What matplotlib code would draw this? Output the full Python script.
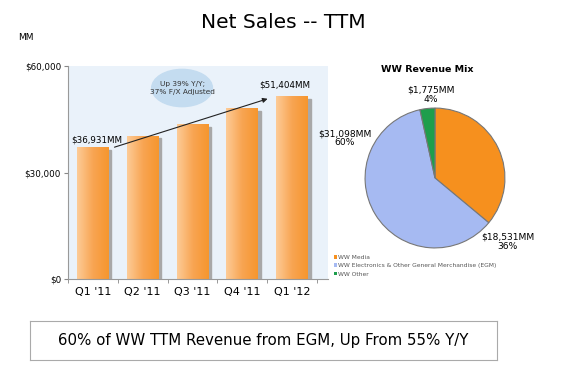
import numpy as np
import matplotlib
matplotlib.use("Agg")
import matplotlib.pyplot as plt
from matplotlib.patches import Ellipse, Rectangle

# Daten
quarters = ["Q1 '11", "Q2 '11", "Q3 '11", "Q4 '11", "Q1 '12"]
net_sales = [36931, 40279, 43594, 48077, 51404]
ytick_vals = [0, 30000, 60000]
ytick_labels = ["$0", "$30,000", "$60,000"]

mix_labels = ["WW Media", "WW Electronics & Other General Merchandise (EGM)", "WW Other"]
mix_values = [18531, 31098, 1775]
mix_pct = ["36%", "60%", "4%"]
mix_colors = ["#F6901E", "#A6BAF2", "#1E9E4C"]

plt.rcParams["font.family"] = ["DejaVu Sans"]

fig = plt.figure(figsize=(5.65, 3.71), dpi=100)
W, H = 565, 371


def fig_axes(x0, y0, x1, y1):
    # Pixelkoordinaten (oben links = 0,0) -> Figure-Koordinaten
    return fig.add_axes([x0 / W, 1 - y1 / H, (x1 - x0) / W, (y1 - y0) / H])


fig.text(283 / W, 1 - 22 / H, "Net Sales -- TTM", ha="center", va="center", fontsize=14.5)
fig.text(18 / W, 1 - 37 / H, "MM", ha="left", va="center", fontsize=6.5)

# --- Balkendiagramm ---
ax = fig_axes(68, 66, 328, 279)
ax.set_facecolor("#EAF2FA")
x = np.arange(len(quarters))
bw = 0.64
grad = np.linspace(0, 1, 50).reshape(1, -1)
cmap = matplotlib.colors.LinearSegmentedColormap.from_list("bar", ["#FDCB96", "#F8A553", "#F6962E"])
for xi, v in zip(x, net_sales):
    ax.add_patch(Rectangle((xi - bw / 2 + 0.05, 0), bw, v - 700, color="#A8A8A8", zorder=1))
    ax.imshow(grad, cmap=cmap, extent=(xi - bw / 2, xi + bw / 2, 0, v),
              aspect="auto", zorder=2)
ax.set_xlim(-0.5, 4.72)
ax.set_ylim(0, 60000)

ax.set_yticks(ytick_vals)
ax.set_yticklabels(ytick_labels, fontsize=6.3)
ax.set_xticks(x)
ax.set_xticklabels(quarters, fontsize=8)
ax.set_xticks(np.arange(-0.5, 5, 1), minor=True)
ax.tick_params(axis="x", which="major", length=0, pad=6)
ax.tick_params(axis="x", which="minor", length=3, color="#888888")
ax.tick_params(axis="y", length=3, color="#888888", pad=2)
for s in ["top", "right"]:
    ax.spines[s].set_visible(False)
for s in ["left", "bottom"]:
    ax.spines[s].set_color("#999999")
    ax.spines[s].set_linewidth(0.8)

ax.add_patch(Ellipse((1.79, 53800), 1.22, 10500, color="#C4DCF0", zorder=3))
ax.text(1.79, 53800, "Up 39% Y/Y;\n37% F/X Adjusted", ha="center", va="center",
        fontsize=5.3, color="#333333", zorder=4, linespacing=1.3)
ax.annotate("", xy=(3.56, 51000), xytext=(0.38, 36900),
            arrowprops=dict(arrowstyle="-|>", color="#222222", lw=0.8,
                            mutation_scale=7), zorder=5)
ax.text(0.08, 39150, "$36,931MM", ha="center", va="center", fontsize=6.3, zorder=5)
ax.text(3.86, 54650, "$51,404MM", ha="center", va="center", fontsize=6.3, zorder=5)

# --- Kreisdiagramm ---
pax = fig_axes(335, 78, 535, 278)
wedges, _ = pax.pie(mix_values, colors=mix_colors, startangle=90, counterclock=False,
                    wedgeprops=dict(edgecolor="#777777", linewidth=0.8))
pax.set_xlim(-1.43, 1.43)
pax.set_ylim(-1.43, 1.43)
pax.set_aspect("equal")
pax.text(-0.06, 1.19, "$1,775MM\n4%", ha="center", va="center", fontsize=6.6,
         linespacing=1.0)
pax.text(-1.29, 0.57, "$31,098MM\n60%", ha="center", va="center", fontsize=6.6,
         linespacing=1.0, clip_on=False)
pax.text(1.04, -0.91, "$18,531MM\n36%", ha="center", va="center", fontsize=6.6,
         linespacing=1.0, clip_on=False)

fig.text(427 / W, 1 - 69 / H, "WW Revenue Mix", ha="center", va="center",
         fontsize=6.8, fontweight="bold")

leg = fig.legend(wedges, mix_labels, loc="upper left",
                 bbox_to_anchor=(331 / W, 1 - 252 / H), frameon=False,
                 fontsize=4.3, handlelength=0.5, handleheight=0.5,
                 handletextpad=0.2, labelspacing=0.55, borderpad=0,
                 labelcolor="#555555")
for h in leg.legend_handles:
    h.set_edgecolor("none")

# --- Textkasten unten ---
box = fig_axes(30, 321, 497, 360)
box.set_xticks([])
box.set_yticks([])
for s in box.spines.values():
    s.set_color("#AAAAAA")
    s.set_linewidth(0.8)
box.text(0.5, 0.5, "60% of WW TTM Revenue from EGM, Up From 55% Y/Y",
         ha="center", va="center", fontsize=10.8, transform=box.transAxes)

fig.savefig("out.png", dpi=100)
